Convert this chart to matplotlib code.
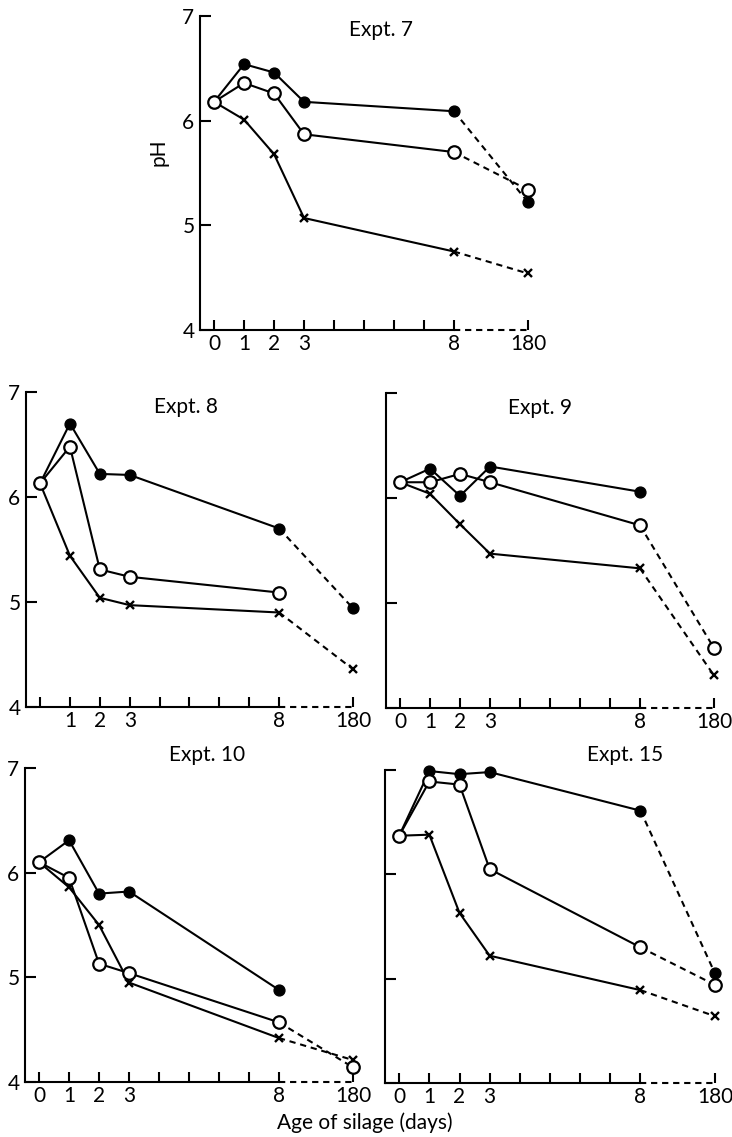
import numpy as np
import matplotlib
matplotlib.use("Agg")
import matplotlib.pyplot as plt

plt.rcParams['font.family'] = ['Lato', 'DejaVu Sans']

# ---------------- data ----------------
days = [0, 1, 2, 3, 8, 180]
tick_days = [0, 1, 2, 3, 4, 5, 6, 7, 8]
X180 = 10.47  # plotting position used for day 180

titles = ["Expt. 7", "Expt. 8", "Expt. 9", "Expt. 10", "Expt. 15"]

filled = [
    [6.18, 6.54, 6.46, 6.18, 6.09, 5.22],
    [6.13, 6.70, 6.22, 6.21, 5.70, 4.94],
    [6.15, 6.28, 6.02, 6.30, 6.06, np.nan],
    [6.10, 6.31, 5.80, 5.82, 4.88, np.nan],
    [6.37, 6.99, 6.96, 6.98, 6.61, 5.05],
]
openc = [
    [6.18, 6.36, 6.26, 5.87, 5.70, 5.34],
    [6.13, 6.48, 5.31, 5.24, 5.09, np.nan],
    [6.15, 6.15, 6.23, 6.15, 5.74, 4.57],
    [6.10, 5.95, 5.13, 5.04, 4.57, 4.14],
    [6.37, 6.89, 6.86, 6.05, 5.30, 4.94],
]
cross = [
    [6.18, 6.01, 5.68, 5.07, 4.75, 4.54],
    [6.13, 5.44, 5.04, 4.97, 4.90, 4.36],
    [6.15, 6.04, 5.75, 5.47, 5.33, 4.31],
    [6.10, 5.86, 5.50, 4.95, 4.42, 4.21],
    [6.37, 6.38, 5.63, 5.22, 4.89, 4.64],
]
xlabels_full = ["0", "1", "2", "3", "", "", "", "", "8", "180"]
xlabels_noz = ["", "1", "2", "3", "", "", "", "", "8", "180"]
ytick_vals = [4, 5, 6, 7]

# ---------------- layout ----------------
W, H = 732, 1137
fig = plt.figure(figsize=(W / 100, H / 100), dpi=100)

# (left px, top px, width px, height px)
boxes = [
    (200, 16, 328, 314),
    (26, 392, 327, 315),
    (386, 393, 328, 315),
    (25, 768, 328, 314),
    (385, 770, 330, 313),
]
title_pos = [(0.552, 0.955), (0.489, 0.952), (0.47, 0.952), (0.555, 1.041), (0.727, 1.048)]
show_ylab = [True, True, False, True, False]
xlab_sets = [xlabels_full, xlabels_noz, xlabels_full, xlabels_full, xlabels_full]

lw = 1.5
dash = (0, (3.0, 2.3))
xpos = [d if d != 180 else X180 for d in days]
FS = 15

for i in range(5):
    l, t, w, h = boxes[i]
    ax = fig.add_axes([l / W, 1 - (t + h) / H, w / W, h / H])
    xmin = -0.47
    ax.set_xlim(xmin, X180)
    ax.set_ylim(4, 7)
    for s in ['top', 'right']:
        ax.spines[s].set_visible(False)
    ax.spines['left'].set_linewidth(lw)
    ax.spines['bottom'].set_linewidth(lw)
    ax.spines['bottom'].set_bounds(xmin, 8)
    # dashed part of the x axis
    ax.plot([8, X180], [4, 4], color='black', lw=lw, linestyle=dash, clip_on=False, zorder=2)

    ax.set_xticks(tick_days + [X180])
    ax.set_xticklabels(xlab_sets[i])
    ax.set_yticks(ytick_vals)
    if show_ylab[i]:
        ax.set_yticklabels([str(v) for v in ytick_vals])
    else:
        ax.set_yticklabels([])
    ax.tick_params(axis='x', direction='in', length=7, width=lw, labelsize=FS, pad=3)
    ax.tick_params(axis='y', direction='in', length=8, width=lw, labelsize=FS, pad=4)

    for vals, kw, z in [
        (filled[i], dict(marker='o', ms=7.8, mfc='black', mec='black', mew=1.0), 3),
        (cross[i], dict(marker='x', ms=6, mec='black', mew=1.7), 3),
        (openc[i], dict(marker='o', ms=9, mfc='white', mec='black', mew=1.6), 4),
    ]:
        v = np.array(vals, dtype=float)
        xs = np.array(xpos, dtype=float)
        # solid part (0..8)
        ax.plot(xs[:5], v[:5], color='black', lw=lw, zorder=z, clip_on=False, **kw)
        if not np.isnan(v[5]):
            ax.plot(xs[4:6], v[4:6], color='black', lw=lw, linestyle=dash, zorder=z - 0.5,
                    clip_on=False)
            ax.plot(xs[5:6], v[5:6], color='black', lw=0, zorder=z, clip_on=False, **kw)

    ax.text(title_pos[i][0], title_pos[i][1], titles[i], transform=ax.transAxes,
            ha='center', va='center', fontsize=FS)

fig.text(159 / W, 1 - 152 / H, "pH", rotation=90, ha='center', va='center', fontsize=FS)
fig.text(365 / W, 1 - 1123 / H, "Age of silage (days)", ha='center', va='center', fontsize=FS)

fig.savefig("out.png", dpi=100)
